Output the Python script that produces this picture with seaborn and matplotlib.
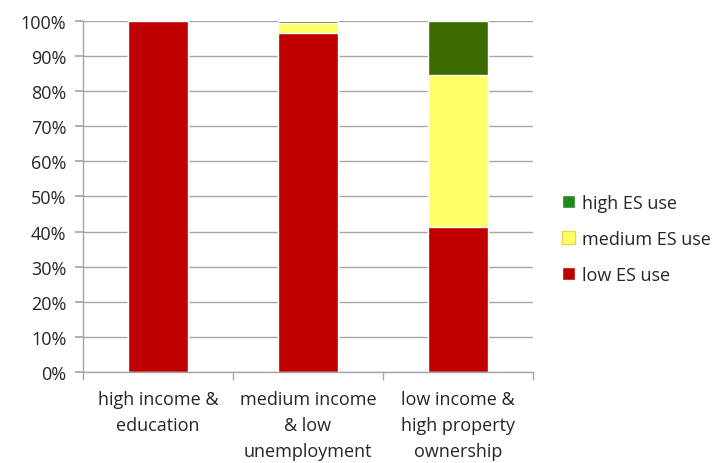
import matplotlib
matplotlib.use("Agg")
import matplotlib.pyplot as plt
from matplotlib.patches import Patch
from matplotlib.ticker import PercentFormatter, FixedLocator
import pandas as pd
import seaborn as sns

# data (share of ES use per cluster, in %)
groups = ["high income &\neducation", "medium income\n& low\nunemployment", "low income &\nhigh property\nownership"]
low_es = [100.0, 96.4, 41.3]
medium_es = [0.0, 3.0, 43.2]
high_es = [0.0, 0.6, 15.5]

df = pd.DataFrame({"group": groups, "low": low_es, "medium": medium_es, "high": high_es})
df["low_med"] = df["low"] + df["medium"]
df["total"] = df["low_med"] + df["high"]

sns.set_theme(style="white")
plt.rcParams["font.family"] = ["Open Sans", "DejaVu Sans"]

fig = plt.figure(figsize=(7.16, 4.64), dpi=100)
ax = fig.add_axes([0.116, 0.196, 0.628, 0.757])

grid_c = "#a6a6a6"
ax.yaxis.grid(True, color=grid_c, lw=1)
ax.set_axisbelow(True)

# stacked bars: draw cumulative tops first, then overdraw lower parts
sns.barplot(data=df, x="group", y="total", color="#3a6a00", width=0.4, saturation=1, ax=ax)
sns.barplot(data=df, x="group", y="low_med", color="#ffff66", width=0.4, saturation=1, ax=ax)
sns.barplot(data=df, x="group", y="low", color="#c00000", width=0.4, saturation=1, ax=ax)

ax.set_ylim(0, 100)
ax.set_xlim(-0.5, 2.5)
ax.yaxis.set_major_locator(FixedLocator(range(0, 101, 10)))
ax.yaxis.set_major_formatter(PercentFormatter(decimals=0))
ax.set_xlabel("")
ax.set_ylabel("")

for s in ["top", "right"]:
    ax.spines[s].set_visible(False)
for s in ["left", "bottom"]:
    ax.spines[s].set_color(grid_c)
    ax.spines[s].set_linewidth(1)

ax.tick_params(axis="y", which="major", left=True, length=6, color=grid_c, labelsize=13,
               labelcolor="#262626", pad=6)
ax.tick_params(axis="x", which="major", bottom=False, labelsize=13, labelcolor="#262626", pad=7)
for lbl in ax.get_xticklabels():
    lbl.set_linespacing(1.55)
ax.xaxis.set_minor_locator(FixedLocator([-0.5, 0.5, 1.5, 2.5]))
ax.tick_params(axis="x", which="minor", bottom=True, length=6, color=grid_c)

handles = [
    Patch(facecolor="#1e8a1e", label="high ES use"),
    Patch(facecolor="#ffff66", edgecolor="#e6d84a", label="medium ES use"),
    Patch(facecolor="#c00000", label="low ES use"),
]
ax.legend(handles=handles, loc="center left", bbox_to_anchor=(1.03, 0.38), frameon=False,
          fontsize=13, handlelength=0.7, handleheight=0.7, handletextpad=0.4,
          labelspacing=1.0, labelcolor="#262626")

fig.savefig("out.png", dpi=100)
